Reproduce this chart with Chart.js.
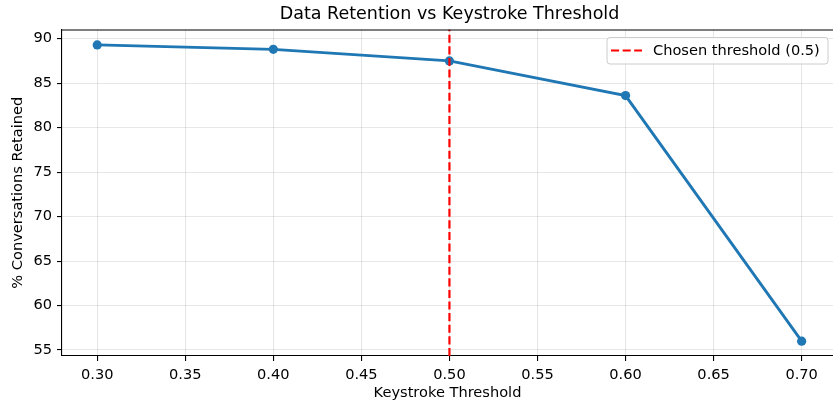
<!DOCTYPE html>
<html>
<head>
<meta charset="utf-8">
<script src="https://cdn.jsdelivr.net/npm/chart.js@4"></script>
<style>
  html, body { margin: 0; padding: 0; background: #fff; overflow: hidden; }
</style>
</head>
<body>
<canvas id="myChart" width="833" height="404"></canvas>
<script>
  // data
  let thresholds = [0.30, 0.40, 0.50, 0.60, 0.70];
  let retained = [89.3, 88.8, 87.5, 83.6, 56.0];
  let chosen = 0.5;
  let xTicks = [0.30, 0.35, 0.40, 0.45, 0.50, 0.55, 0.60, 0.65, 0.70];
  let yTicks = [55, 60, 65, 70, 75, 80, 85, 90];
  let yMin = 54.33, yMax = 91.03;

  let font = 'DejaVu Sans';
  let fs = 14.6;

  // title centred over the axes, top spine and legend box
  let extras = {
    id: 'extras',
    afterDraw(chart) {
      let c = chart.ctx, a = chart.chartArea;
      c.save();
      c.strokeStyle = '#000';
      c.lineWidth = 1.1;
      c.beginPath();
      c.moveTo(a.left, a.top + 0.5);
      c.lineTo(a.right, a.top + 0.5);
      c.stroke();

      c.fillStyle = '#000';
      c.font = '17.5px "' + font + '"';
      c.textAlign = 'center';
      c.textBaseline = 'middle';
      c.fillText('Data Retention vs Keystroke Threshold', 449.5, 14);

      // legend
      let bx = 607, by = 37.5, bw = 221, bh = 26.5, r = 3;
      c.beginPath();
      c.moveTo(bx + r, by);
      c.arcTo(bx + bw, by, bx + bw, by + bh, r);
      c.arcTo(bx + bw, by + bh, bx, by + bh, r);
      c.arcTo(bx, by + bh, bx, by, r);
      c.arcTo(bx, by, bx + bw, by, r);
      c.closePath();
      c.fillStyle = 'rgba(255,255,255,0.8)';
      c.fill();
      c.strokeStyle = '#cccccc';
      c.lineWidth = 1;
      c.stroke();

      c.strokeStyle = 'red';
      c.lineWidth = 2.2;
      c.setLineDash([8.1, 3.5]);
      c.beginPath();
      c.moveTo(611, 50.5);
      c.lineTo(642, 50.5);
      c.stroke();
      c.setLineDash([]);

      c.fillStyle = '#000';
      c.font = fs + 'px "' + font + '"';
      c.textAlign = 'left';
      c.fillText('Chosen threshold (0.5)', 653, 51);
      c.restore();
    }
  };

  let ctx = document.getElementById('myChart').getContext('2d');

  let retentionChart = new Chart(ctx, {
    type: 'line',
    data: {
      datasets: [{
        label: 'Chosen threshold (0.5)',
        data: [{x: chosen, y: yMin}, {x: chosen, y: yMax}],
        borderColor: 'red',
        borderWidth: 2.2,
        borderDash: [8.1, 3.5],
        pointRadius: 0,
        order: 0,
      }, {
        label: 'retained',
        data: thresholds.map((t, i) => ({x: t, y: retained[i]})),
        borderColor: '#1f77b4',
        backgroundColor: '#1f77b4',
        borderWidth: 2.9,
        pointRadius: 4.6,
        pointHoverRadius: 4.6,
        pointBorderWidth: 0,
        order: 1,
      }]
    },
    options: {
      responsive: false,
      animation: false,
      layout: { autoPadding: false, padding: { top: 29.5, right: 0, left: 0, bottom: 0 } },
      plugins: {
        legend: { display: false },
        title: { display: false },
        tooltip: { enabled: false },
      },
      scales: {
        x: {
          type: 'linear',
          min: 0.28,
          max: 0.7178,
          afterBuildTicks: s => { s.ticks = xTicks.map(v => ({value: v})); },
          afterFit: s => { s.height = 48; s.paddingLeft = 0; s.paddingRight = 0; },
          ticks: {
            callback: v => v.toFixed(2),
            color: '#000',
            font: { family: font, size: fs },
            padding: 5,
            maxRotation: 0,
            autoSkip: false,
          },
          grid: { color: 'rgba(176,176,176,0.3)', lineWidth: 1.1, tickColor: '#000', tickLength: 5 },
          border: { color: '#000', width: 1.1 },
          title: {
            display: true,
            text: 'Keystroke Threshold',
            color: '#000',
            font: { family: font, size: fs },
            padding: { top: 0, bottom: 2.2 },
          }
        },
        y: {
          min: yMin,
          max: yMax,
          afterBuildTicks: s => { s.ticks = yTicks.map(v => ({value: v})); },
          afterFit: s => { s.width = 62; s.paddingTop = 0; s.paddingBottom = 0; },
          ticks: {
            color: '#000',
            font: { family: font, size: fs },
            padding: 5,
          },
          grid: { color: 'rgba(176,176,176,0.3)', lineWidth: 1.1, tickColor: '#000', tickLength: 5 },
          border: { color: '#000', width: 1.1 },
          title: {
            display: true,
            text: '% Conversations Retained',
            color: '#000',
            font: { family: font, size: fs },
            padding: { top: 9, bottom: 0 },
          }
        }
      }
    },
    plugins: [extras]
  });
</script>
</body>
</html>
